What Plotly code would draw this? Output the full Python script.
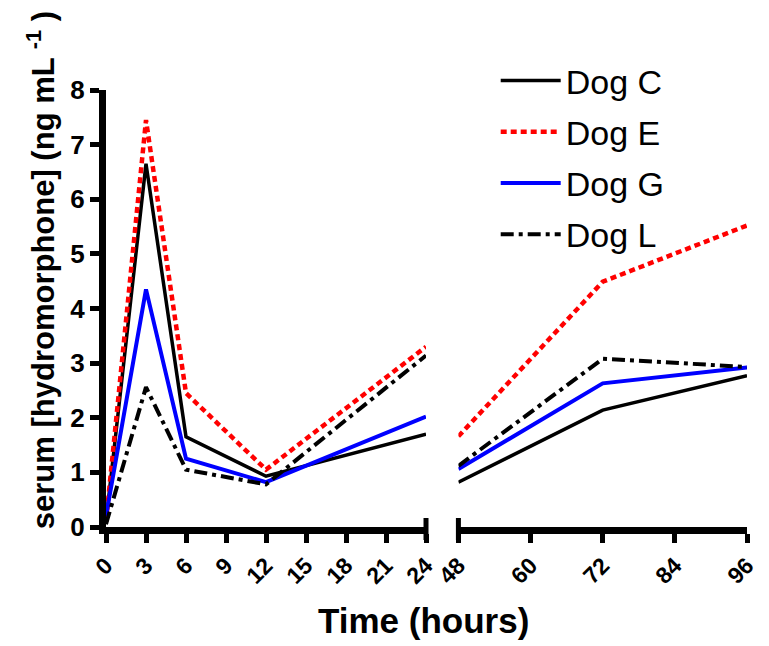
import plotly.graph_objects as go

# ---- data ----
dogs = ["Dog C", "Dog E", "Dog G", "Dog L"]
t_early = [0, 3, 6, 12, 24]
t_late = [48, 72, 96]
c_early = [0.1, 6.65, 1.65, 0.93, 1.70]
c_late = [0.82, 2.14, 2.77]
e_early = [0.1, 7.45, 2.45, 1.05, 3.30]
e_late = [1.66, 4.49, 5.52]
g_early = [0.2, 4.35, 1.25, 0.82, 2.02]
g_late = [1.06, 2.63, 2.92]
l_early = [0.05, 2.56, 1.05, 0.78, 3.14]
l_late = [1.12, 3.08, 2.93]
early_ticks = [0, 3, 6, 9, 12, 15, 18, 21, 24]
late_ticks = [48, 60, 72, 84, 96]
y_ticks = [0, 1, 2, 3, 4, 5, 6, 7, 8]

series_early = [c_early, e_early, g_early, l_early]
series_late = [c_late, e_late, g_late, l_late]
styles = [
    dict(color="black", width=3.5, dash="solid"),
    dict(color="#ff0000", width=4.5, dash="6px,4px"),
    dict(color="#0000ff", width=4, dash="solid"),
    dict(color="black", width=4, dash="13px,5px,4px,5px"),
]

FONT = "Liberation Sans, Arial, sans-serif"

fig = go.Figure()
for name, ye, yl, st in zip(dogs, series_early, series_late, styles):
    fig.add_trace(go.Scatter(x=t_early, y=ye, mode="lines", name=name, line=st,
                             legendgroup=name, xaxis="x", yaxis="y"))
    fig.add_trace(go.Scatter(x=t_late, y=yl, mode="lines", name=name, line=st,
                             legendgroup=name, showlegend=False, xaxis="x2", yaxis="y"))

L, R, T, B = 106, 10, 90, 119
W, H = 769, 646
pw = W - L - R
ph = H - T - B

def px_x(p):
    return (p - L) / pw

def px_y(p):
    return (H - B - p) / ph

left_dom = [0, px_x(432)]
right_dom = [px_x(465), 1.0]

axis_common = dict(showline=True, linewidth=7, linecolor="black", ticks="outside",
                   ticklen=9, tickwidth=5, tickcolor="black", showgrid=False,
                   zeroline=False)

fig.update_layout(
    width=W, height=H,
    margin=dict(l=L, r=R, t=T, b=B),
    paper_bgcolor="white", plot_bgcolor="white",
    xaxis=dict(domain=left_dom, range=[0, 24], tickvals=early_ticks, tickangle=-45,
               anchor="y",
               tickfont=dict(family=FONT, size=23, color="black", weight="bold"),
               **axis_common),
    xaxis2=dict(domain=right_dom, range=[48, 96], tickvals=late_ticks, tickangle=-45,
                anchor="y",
                tickfont=dict(family=FONT, size=23, color="black", weight="bold"),
                **axis_common),
    yaxis=dict(range=[0, 8], tickvals=y_ticks, anchor="x",
               tickfont=dict(family=FONT, size=26, color="black", weight="bold"),
               **axis_common),
    legend=dict(x=px_x(503), y=px_y(52), xanchor="left", yanchor="top",
                bgcolor="rgba(0,0,0,0)", borderwidth=0, itemwidth=60,
                tracegroupgap=4,
                font=dict(family=FONT, size=34, color="black")),
    showlegend=True,
)

# break marks at the ends of the two x-axis segments
for xp in [left_dom[1], right_dom[0]]:
    fig.add_shape(type="line", xref="paper", yref="paper", x0=xp, x1=xp,
                  y0=px_y(518), y1=px_y(540), line=dict(color="black", width=5))

fig.add_annotation(text="Time (hours)", xref="paper", yref="paper",
                   x=px_x(429), y=px_y(620), xanchor="center", yanchor="middle",
                   showarrow=False,
                   font=dict(family=FONT, size=35, color="black", weight="bold"))
fig.add_annotation(text="serum [hydromorphone] (ng mL <sup>-1</sup> )", xref="paper", yref="paper",
                   x=px_x(40), y=px_y(270), xanchor="center", yanchor="middle",
                   textangle=-90, showarrow=False,
                   font=dict(family=FONT, size=31, color="black", weight="bold"))

fig.write_html("out.html")
